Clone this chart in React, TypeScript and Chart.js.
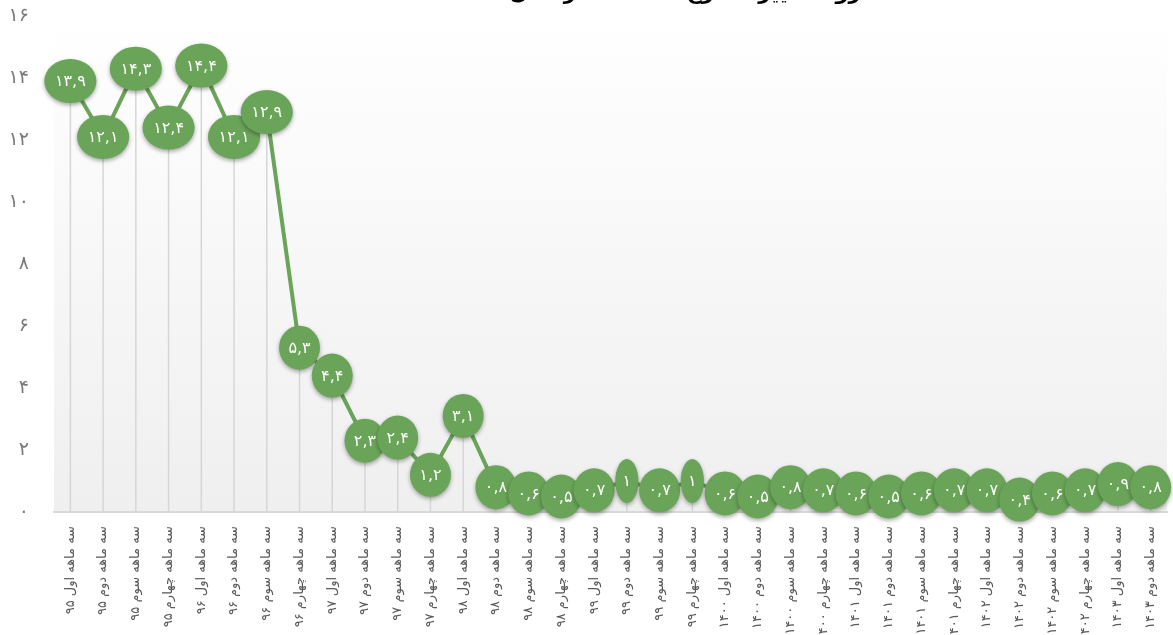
import React, { useEffect, useRef } from "react";
import { Chart, registerables } from "chart.js";

Chart.register(...registerables);

const categories: string[] = [
  "سه ماهه اول ۹۵", "سه ماهه دوم ۹۵", "سه ماهه سوم ۹۵", "سه ماهه چهارم ۹۵",
  "سه ماهه اول ۹۶", "سه ماهه دوم ۹۶", "سه ماهه سوم ۹۶", "سه ماهه چهارم ۹۶",
  "سه ماهه اول ۹۷", "سه ماهه دوم ۹۷", "سه ماهه سوم ۹۷", "سه ماهه چهارم ۹۷",
  "سه ماهه اول ۹۸", "سه ماهه دوم ۹۸", "سه ماهه سوم ۹۸", "سه ماهه چهارم ۹۸",
  "سه ماهه اول ۹۹", "سه ماهه دوم ۹۹", "سه ماهه سوم ۹۹", "سه ماهه چهارم ۹۹",
  "سه ماهه اول ۱۴۰۰", "سه ماهه دوم ۱۴۰۰", "سه ماهه سوم ۱۴۰۰", "سه ماهه چهارم ۱۴۰۰",
  "سه ماهه اول ۱۴۰۱", "سه ماهه دوم ۱۴۰۱", "سه ماهه سوم ۱۴۰۱", "سه ماهه چهارم ۱۴۰۱",
  "سه ماهه اول ۱۴۰۲", "سه ماهه دوم ۱۴۰۲", "سه ماهه سوم ۱۴۰۲", "سه ماهه چهارم ۱۴۰۲",
  "سه ماهه اول ۱۴۰۳", "سه ماهه دوم ۱۴۰۳",
];

const values: number[] = [
  13.9, 12.1, 14.3, 12.4, 14.4, 12.1, 12.9, 5.3,
  4.4, 2.3, 2.4, 1.2, 3.1, 0.8, 0.6, 0.5,
  0.7, 1, 0.7, 1, 0.6, 0.5, 0.8, 0.7,
  0.6, 0.5, 0.6, 0.7, 0.7, 0.4, 0.6, 0.7,
  0.9, 0.8,
];

const yMin = 0;
const yMax = 16;
const yStep = 2;

const title = "روند تغییرات نرخ سه ماهه از سال ۱۳۹۵ تا ۱۴۰۳";

const GREEN = "#6aa459";
const FONT = "'DejaVu Sans', sans-serif";

const fa = (s: string) =>
  s.replace(/\d/g, (d) => "۰۱۲۳۴۵۶۷۸۹"[Number(d)]).replace(".", ",");

const bgPlugin = {
  id: "bgGradient",
  beforeDraw(chart: any) {
    const { ctx, chartArea } = chart;
    if (!chartArea) return;
    const g = ctx.createLinearGradient(0, chartArea.top, 0, chartArea.bottom);
    g.addColorStop(0, "#ffffff");
    g.addColorStop(1, "#efefef");
    ctx.save();
    ctx.fillStyle = g;
    ctx.fillRect(chartArea.left, chartArea.top, chartArea.right - chartArea.left, chartArea.bottom - chartArea.top);
    ctx.restore();
  },
};

const dropPlugin = {
  id: "dropLines",
  beforeDatasetsDraw(chart: any) {
    const { ctx, chartArea } = chart;
    const meta = chart.getDatasetMeta(0);
    ctx.save();
    ctx.strokeStyle = "#d6d6d6";
    ctx.lineWidth = 1.5;
    meta.data.forEach((p: any) => {
      ctx.beginPath();
      ctx.moveTo(p.x, p.y);
      ctx.lineTo(p.x, chartArea.bottom);
      ctx.stroke();
    });
    ctx.restore();
  },
};

const markerPlugin = {
  id: "ellipseMarkers",
  afterDatasetsDraw(chart: any) {
    const { ctx } = chart;
    const meta = chart.getDatasetMeta(0);
    const data = chart.data.datasets[0].data as number[];
    ctx.save();
    ctx.font = `16px ${FONT}`;
    meta.data.forEach((p: any, i: number) => {
      const text = fa(String(data[i]));
      const tw = ctx.measureText(text).width;
      const rx = (tw * 1.3 + 12) / 2;
      const ry = 22;
      ctx.save();
      ctx.shadowColor = "rgba(0,0,0,0.35)";
      ctx.shadowBlur = 4;
      ctx.shadowOffsetY = 2;
      ctx.fillStyle = GREEN;
      ctx.beginPath();
      ctx.ellipse(p.x, p.y, rx, ry, 0, 0, Math.PI * 2);
      ctx.fill();
      ctx.restore();
      ctx.fillStyle = "#ffffff";
      ctx.textAlign = "center";
      ctx.textBaseline = "middle";
      ctx.fillText(text, p.x, p.y + 1);
    });
    ctx.restore();
  },
};

const titlePlugin = {
  id: "cutTitle",
  afterDraw(chart: any) {
    const { ctx } = chart;
    ctx.save();
    ctx.font = `bold 21px ${FONT}`;
    ctx.fillStyle = "#000000";
    ctx.textAlign = "center";
    ctx.textBaseline = "alphabetic";
    ctx.fillText(title, 615, -1);
    ctx.restore();
  },
};

export default function App() {
  const ref = useRef<HTMLCanvasElement | null>(null);

  useEffect(() => {
    if (!ref.current) return;
    const chart = new Chart(ref.current, {
      type: "line",
      data: {
        labels: categories,
        datasets: [
          {
            data: values,
            borderColor: GREEN,
            borderWidth: 4,
            pointRadius: 0,
            pointHoverRadius: 0,
            tension: 0,
            fill: false,
          },
        ],
      },
      options: {
        animation: false,
        responsive: true,
        maintainAspectRatio: false,
        layout: { padding: { top: 16, right: 6, left: 0, bottom: 0 } },
        plugins: {
          legend: { display: false },
          tooltip: { enabled: false },
          title: { display: false },
        },
        scales: {
          x: {
            offset: true,
            grid: { display: false },
            border: { display: true, color: "#d9d9d9", width: 2 },
            ticks: {
              autoSkip: false,
              minRotation: 90,
              maxRotation: 90,
              padding: 6,
              color: "#595959",
              font: { family: FONT, size: 13 },
            },
            afterFit(scale: any) {
              scale.height = 123;
              scale.paddingTop = 0;
              scale.paddingBottom = 0;
              scale.paddingLeft = 0;
              scale.paddingRight = 0;
            },
          },
          y: {
            min: yMin,
            max: yMax,
            grid: { display: false },
            border: { display: false },
            ticks: {
              stepSize: yStep,
              padding: 17,
              color: "#7a7a7a",
              font: { family: FONT, size: 19 },
              callback: (v: any) => fa(String(v)),
            },
            afterFit(scale: any) {
              scale.width = 54;
              scale.paddingTop = 0;
              scale.paddingBottom = 0;
            },
          },
        },
      },
      plugins: [bgPlugin, dropPlugin, markerPlugin, titlePlugin],
    });
    return () => chart.destroy();
  }, []);

  return (
    <div style={{ position: "fixed", left: 0, top: 0, width: 1173, height: 635, background: "#ffffff" }}>
      <canvas ref={ref} />
    </div>
  );
}
